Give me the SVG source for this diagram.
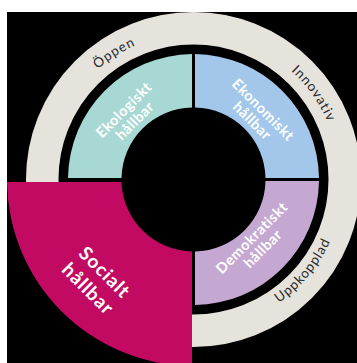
<svg xmlns="http://www.w3.org/2000/svg" width="357" height="363" viewBox="0 0 357 363">
<style>
.ring-label{font-family:Lato,"Noto Sans",sans-serif;font-size:13.5px;fill:#2a2a2a;letter-spacing:1px}
.inner{font-family:Lato,"Noto Sans",sans-serif;font-weight:700;font-size:14.5px;fill:#ffffff;letter-spacing:0.5px;text-anchor:middle}
.big{font-size:19px;letter-spacing:1px}
</style>
<defs>
<path id="cw" d="M 47.5 179.5 A 146 146 0 1 1 339.5 179.5 A 146 146 0 1 1 47.5 179.5"/>
<path id="ccw" d="M 43.5 179.5 A 150 150 0 1 0 343.5 179.5 A 150 150 0 1 0 43.5 179.5"/>
</defs>
<rect width="357" height="363" fill="#ffffff"/>
<rect x="7" y="12" width="350" height="351" fill="#000000"/>
<g id="ring">
<circle cx="193.5" cy="179.5" r="151.25" fill="none" stroke="#e6e3dd" stroke-width="32.5"/>
<text class="ring-label" text-anchor="middle"><textPath href="#cw" startOffset="147.5">Öppen</textPath></text>
<text class="ring-label" text-anchor="middle"><textPath href="#cw" startOffset="368">Innovativ</textPath></text>
<text class="ring-label" text-anchor="middle"><textPath href="#ccw" startOffset="367">Uppkopplad</textPath></text>
</g>
<g id="ekologiskt">
<path d="M 68 178 A 125.5 125.5 0 0 1 192 54 L 192 107.5 A 72 72 0 0 0 121.5 178 Z" fill="#a8d8d3"/>
<text class="inner" transform="translate(129.5,115.5) rotate(-45)"><tspan x="0" y="-3">Ekologiskt</tspan><tspan x="0" y="12.5">hållbar</tspan></text>
</g>
<g id="ekonomiskt">
<path d="M 195 54 A 125.5 125.5 0 0 1 319 178 L 265.5 178 A 72 72 0 0 0 195 107.5 Z" fill="#a2c7ea"/>
<text class="inner" transform="translate(257.5,115.5) rotate(45)"><tspan x="0" y="-3">Ekonomiskt</tspan><tspan x="0" y="12.5">hållbar</tspan></text>
</g>
<g id="demokratiskt">
<path d="M 319 181 A 125.5 125.5 0 0 1 195 305 L 195 251.5 A 72 72 0 0 0 265.5 181 Z" fill="#c5a8d2"/>
<text class="inner" transform="translate(257.5,243.5) rotate(-45)"><tspan x="0" y="-3">Demokratiskt</tspan><tspan x="0" y="12.5">hållbar</tspan></text>
</g>
<g id="socialt">
<path d="M 192 366 A 186.5 186.5 0 0 1 7 182 L 121.5 182 A 72 72 0 0 0 192 251.5 Z" fill="#c30a62"/>
<text class="inner big" transform="translate(96.5,280.5) rotate(45)"><tspan x="0" y="-5">Socialt</tspan><tspan x="0" y="18.5">hållbar</tspan></text>
</g>
</svg>
